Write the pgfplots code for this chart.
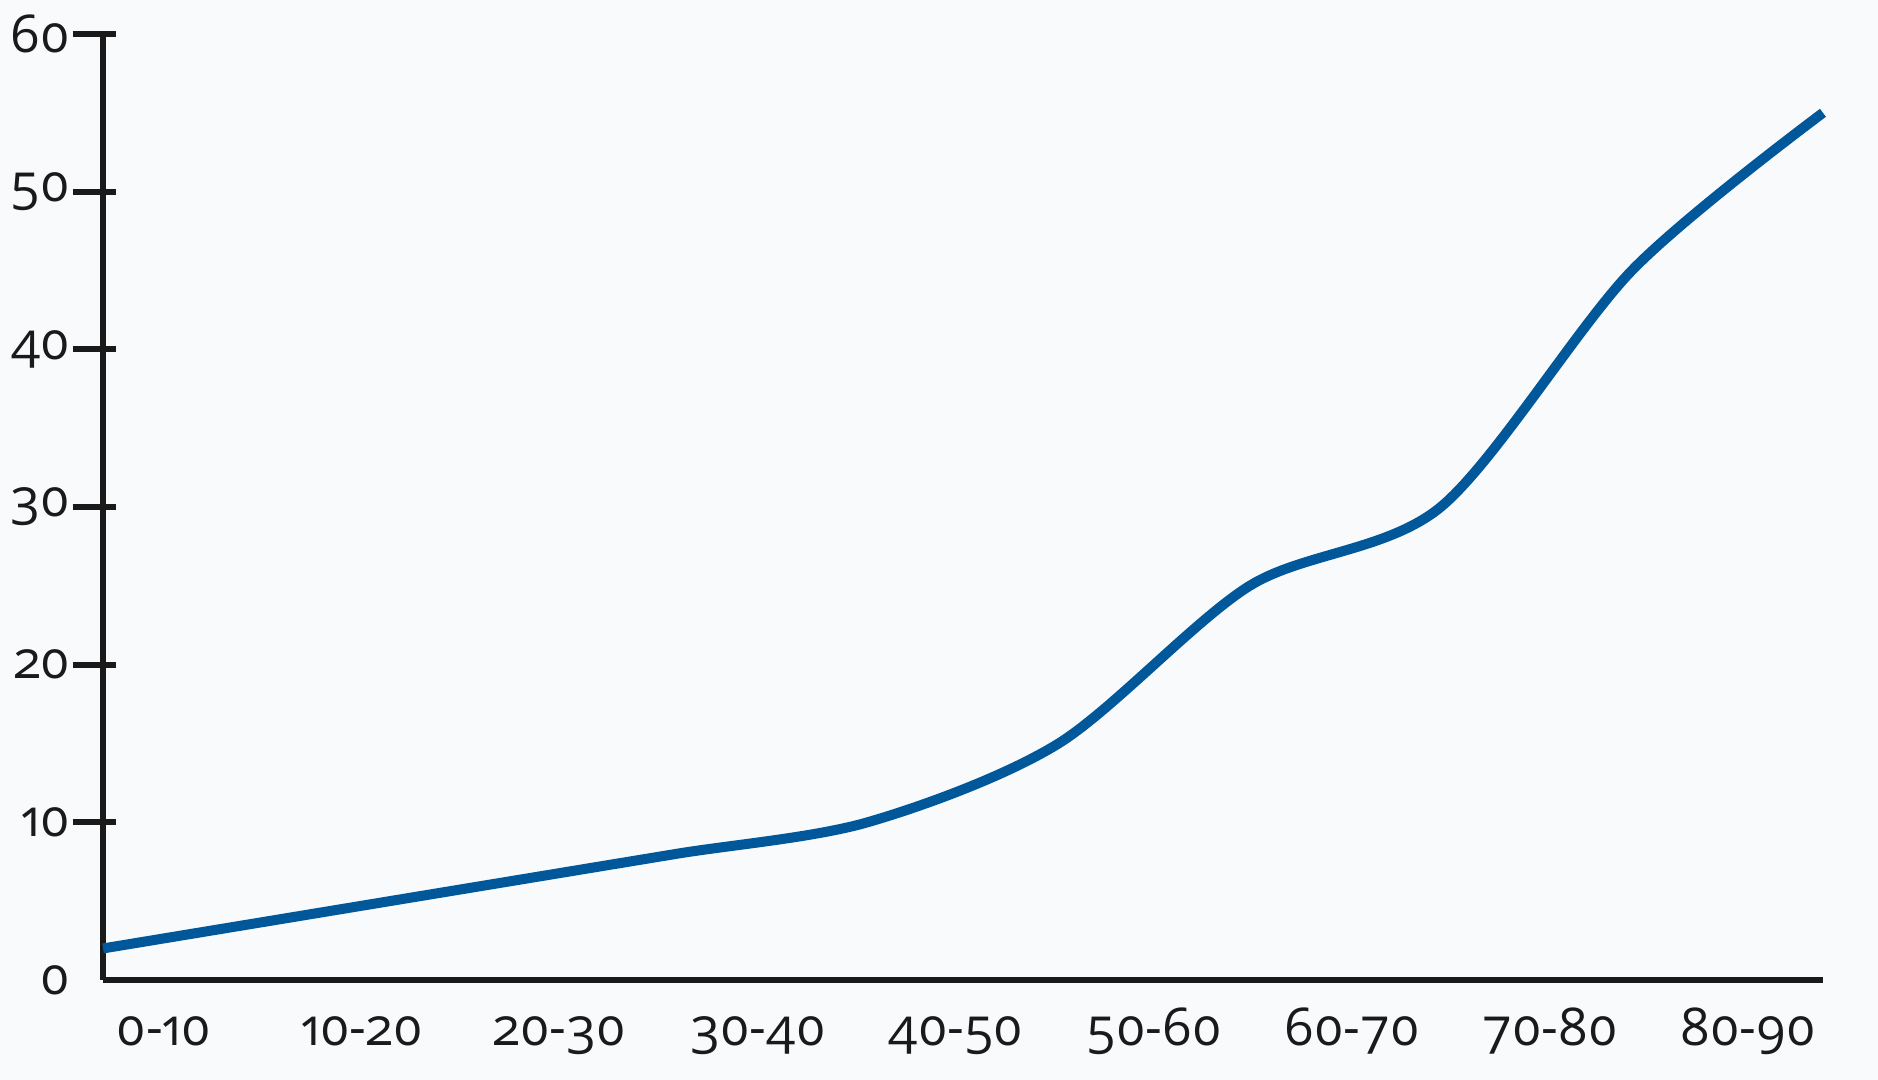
\documentclass[border=0pt]{standalone}
\usepackage{fontspec}
\setmainfont{Open Sans}[Numbers=OldStyle]
\usepackage{pgfplots}
\pgfplotsset{compat=1.18}
\definecolor{bgcol}{HTML}{F8FAFC}
\definecolor{axcol}{HTML}{1A1A1A}
\definecolor{linecol}{HTML}{00589B}
\begin{document}
\begin{tikzpicture}
\fill[bgcol] (-25.75pt,-25pt) rectangle (443.75pt,245pt);
\useasboundingbox (-25.75pt,-25pt) rectangle (443.75pt,245pt);
\begin{axis}[
  at={(0,0)}, anchor=south west,
  scale only axis,
  width=430pt, height=236.5pt,
  xmin=0, xmax=9, ymin=0, ymax=60,
  clip=false,
  axis x line=bottom, axis y line=left,
  axis line style={-, line width=1.5pt, color=axcol},
  xtick={0.319,1.355,2.391,3.427,4.463,5.500,6.536,7.572,8.608},
  xticklabels={0-10,10-20,20-30,30-40,40-50,50-60,60-70,70-80,80-90},
  xtick style={draw=none},
  ytick={10,20,30,40,50,60},
  extra y ticks={0},
  extra y tick style={major tick length=0pt},
  tick align=inside,
  major tick length=10.75pt,
  ytick style={xshift=-7.5pt, line width=1.5pt, color=axcol},
  /pgf/number format/assume math mode=true,
  ticklabel style={font=\fontsize{13}{15.5}\selectfont, color=axcol},
  xticklabel style={anchor=base, yshift=-16.5pt, inner sep=0pt},
  yticklabel style={anchor=east, xshift=-8pt, inner sep=0pt},
]
\addplot[color=linecol, line width=2.5pt, smooth, tension=0.5] coordinates {
  (0,2) (1,4) (2,6) (3,8) (4,10) (5,15) (6,25) (7,30) (8,45) (9,55)
};
\end{axis}
\end{tikzpicture}
\end{document}
